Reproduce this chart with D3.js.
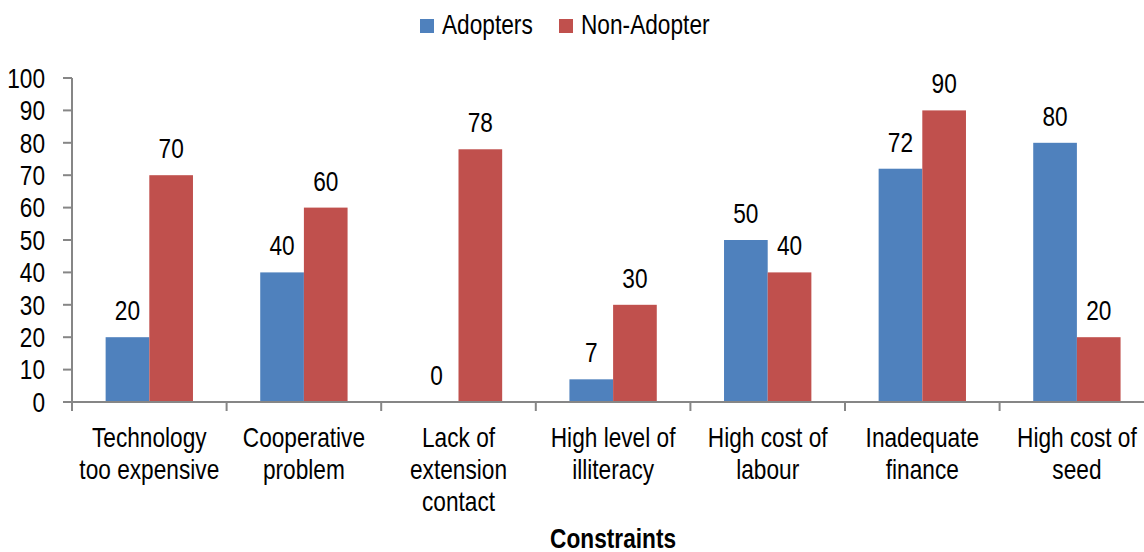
<!DOCTYPE html>
<html>
<head>
<meta charset="utf-8">
<script src="https://cdn.jsdelivr.net/npm/d3@7"></script>
<style>
  html, body { margin: 0; padding: 0; background: #fff; }
  svg { display: block; }
  text { font-family: "Liberation Sans", Arial, sans-serif; fill: #000; }
</style>
</head>
<body>
<svg id="chart" width="1144" height="552"></svg>
<script>
const categories = [
  "Technology too expensive",
  "Cooperative problem",
  "Lack of extension contact",
  "High level of illiteracy",
  "High cost of labour",
  "Inadequate finance",
  "High cost of seed"
];
const categoryLines = [
  ["Technology", "too expensive"],
  ["Cooperative", "problem"],
  ["Lack of", "extension", "contact"],
  ["High level of", "illiteracy"],
  ["High cost of", "labour"],
  ["Inadequate", "finance"],
  ["High cost of", "seed"]
];
const seriesNames = ["Adopters", "Non-Adopter"];
const adopters = [20, 40, 0, 7, 50, 72, 80];
const nonAdopters = [70, 60, 78, 30, 40, 90, 20];
const yTicks = [0, 10, 20, 30, 40, 50, 60, 70, 80, 90, 100];
const colors = ["#4F81BD", "#C0504D"];
const xTitle = "Constraints";

(function () {
const svg = d3.select("#chart");
const pLeft = 72, pRight = 1154.2, pTop = 78, pBottom = 402;
const fontSize = 27;
const narrow = 0.84;

function addText(parent, x, y, anchor) {
  return parent.append("text")
    .attr("transform", `translate(${x},${y}) scale(${narrow},1)`)
    .attr("text-anchor", anchor || "middle")
    .attr("font-size", fontSize);
}

const x = d3.scaleBand().domain(categories).range([pLeft, pRight]).paddingInner(0).paddingOuter(0);
const y = d3.scaleLinear().domain([0, 100]).range([pBottom, pTop]);
const barW = x.bandwidth() / 3.54;
const x1 = d3.scaleBand().domain(seriesNames).range([0, barW * 2]);

const series = [adopters, nonAdopters];

const g = svg.append("g");
categories.forEach((c, i) => {
  const cx = x(c) + x.bandwidth() / 2;
  seriesNames.forEach((s, j) => {
    const v = series[j][i];
    const bx = cx - barW + x1(s);
    if (v > 0) {
      g.append("rect")
        .attr("x", bx).attr("y", y(v))
        .attr("width", barW).attr("height", y(0) - y(v))
        .attr("fill", colors[j]);
    }
    addText(g, bx + barW / 2, y(v) - 17).text(v);
  });
});

const axisColor = "#868686";
const yAxis = svg.append("g");
yAxis.append("line").attr("x1", pLeft).attr("x2", pLeft).attr("y1", y(100)).attr("y2", y(0))
  .attr("stroke", axisColor).attr("stroke-width", 2);
yTicks.forEach(t => {
  yAxis.append("line").attr("x1", pLeft - 9).attr("x2", pLeft).attr("y1", y(t)).attr("y2", y(t))
    .attr("stroke", axisColor).attr("stroke-width", 2);
  addText(yAxis, 45, y(t), "end").attr("dy", "0.36em").text(t);
});

const xAxis = svg.append("g");
xAxis.append("line").attr("x1", pLeft - 9).attr("x2", pRight).attr("y1", y(0)).attr("y2", y(0))
  .attr("stroke", axisColor).attr("stroke-width", 2);
categories.forEach((c, i) => {
  xAxis.append("line").attr("x1", x(c)).attr("x2", x(c)).attr("y1", y(0)).attr("y2", y(0) + 9)
    .attr("stroke", axisColor).attr("stroke-width", 2);
  const cx = x(c) + x.bandwidth() / 2;
  const t = addText(xAxis, cx, 447);
  categoryLines[i].forEach((ln, k) => {
    t.append("tspan").attr("x", 0).attr("dy", k === 0 ? 0 : 32).text(ln);
  });
});

addText(svg, (pLeft + pRight) / 2, 548).attr("font-weight", "bold").text(xTitle);

const legendX = [420, 559];
seriesNames.forEach((s, j) => {
  svg.append("rect").attr("x", legendX[j]).attr("y", 19).attr("width", 14).attr("height", 14).attr("fill", colors[j]);
  addText(svg, legendX[j] + 22, 34, "start").text(s);
});
})();
</script>
</body>
</html>
